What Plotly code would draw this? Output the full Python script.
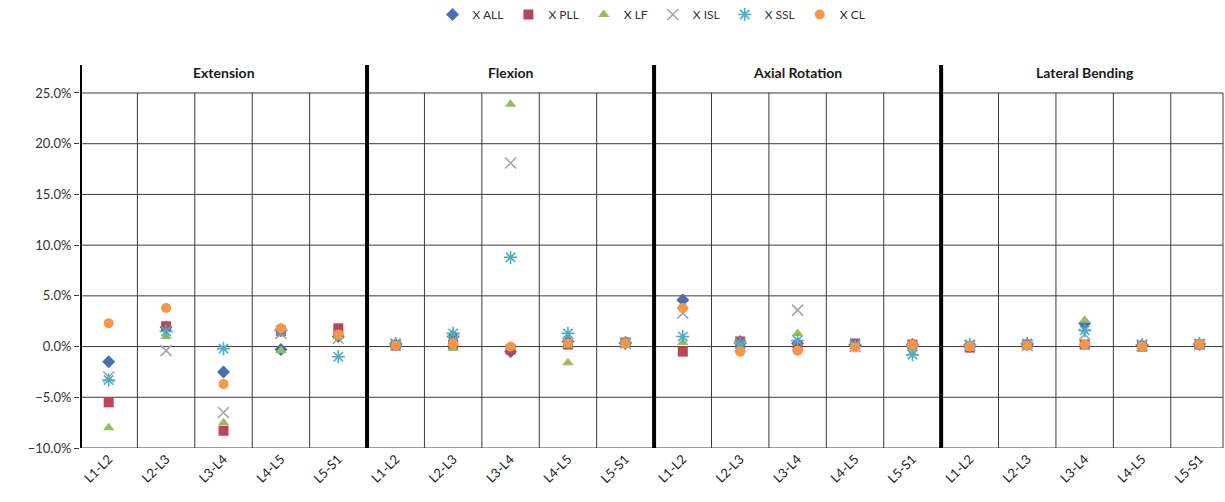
import plotly.graph_objects as go

motions = ["Extension", "Flexion", "Axial Rotation", "Lateral Bending"]
levels = ["L1-L2", "L2-L3", "L3-L4", "L4-L5", "L5-S1"]
categories = [lv for _ in motions for lv in levels]

# values in % (Extension, Flexion, Axial Rotation, Lateral Bending; 5 levels each)
x_all = [-1.5, 1.9, -2.5, -0.3, 1.0,
         0.2, 1.0, -0.5, 0.5, 0.3,
         4.6, 0.5, 0.3, 0.1, 0.2,
         0.0, 0.2, 2.3, 0.1, 0.2]
x_pll = [-5.5, 2.0, -8.3, 1.5, 1.8,
         0.1, 0.2, -0.3, 0.2, 0.4,
         -0.5, 0.5, 0.0, 0.3, 0.2,
         -0.1, 0.2, 0.2, 0.0, 0.2]
x_lf = [-8.0, 1.0, -7.5, -0.4, 1.0,
        0.0, -0.2, 23.9, -1.6, 0.3,
        0.4, 0.0, 1.3, 0.0, -0.2,
        -0.2, 0.0, 2.6, 0.0, 0.1]
x_isl = [-3.0, -0.4, -6.5, 1.3, 0.8,
         0.2, 0.6, 18.1, 0.3, 0.3,
         3.3, 0.0, 3.6, 0.0, -0.4,
         0.1, 0.1, 1.2, 0.1, 0.2]
x_ssl = [-3.3, 1.5, -0.2, 1.6, -1.0,
         0.3, 1.3, 8.8, 1.3, 0.4,
         1.0, 0.3, 0.6, 0.2, -0.8,
         0.2, 0.3, 1.6, 0.2, 0.3]
x_cl = [2.3, 3.8, -3.7, 1.8, 1.2,
        0.1, 0.3, 0.0, 0.3, 0.3,
        3.8, -0.5, -0.4, -0.1, 0.2,
        0.0, 0.1, 0.2, 0.0, 0.2]

y_ticks = [-10, -5, 0, 5, 10, 15, 20, 25]
xs = list(range(len(categories)))

series = [
    ("X ALL", x_all, "diamond", "#4A6FAF", None),
    ("X PLL", x_pll, "square", "#BE4459", None),
    ("X LF", x_lf, "triangle-up", "#9BBB59", None),
    ("X ISL", x_isl, "x-thin-open", "#A6A6A6", 1.6),
    ("X SSL", x_ssl, "asterisk-open", "#4BACC6", 1.6),
    ("X CL", x_cl, "circle", "#F79646", None),
]

fig = go.Figure()
for name, vals, sym, col, lw in series:
    marker = dict(symbol=sym, size=10, color=col)
    if lw:
        marker["line"] = dict(color=col, width=lw)
        marker["size"] = 11
    fig.add_trace(go.Scatter(x=xs, y=[v / 100 for v in vals], mode="markers",
                             name=name, marker=marker))

shapes = []
n = len(categories)
# white band over the top edge of the plot area
shapes.append(dict(type="rect", xref="paper", yref="paper", x0=-0.01, x1=1.01,
                   y0=0.97, y1=1.05, fillcolor="white", line=dict(width=0)))
for t in y_ticks:
    shapes.append(dict(type="line", xref="paper", yref="y", x0=0, x1=1,
                       y0=t / 100, y1=t / 100, layer="below",
                       line=dict(color="#3a3a3a", width=1)))
for i in range(n):
    b = i - 0.5
    if i % 5 == 0:
        shapes.append(dict(type="line", xref="x", yref="paper", x0=b, x1=b,
                           y0=0, y1=1, line=dict(color="black", width=4)))
    else:
        shapes.append(dict(type="line", xref="x", yref="y", x0=b, x1=b,
                           y0=-0.10, y1=0.25, layer="below",
                           line=dict(color="#3a3a3a", width=1)))
shapes.append(dict(type="line", xref="paper", yref="y", x0=1, x1=1,
                   y0=-0.10, y1=0.25, line=dict(color="#3a3a3a", width=1)))

annotations = []
for k, m in enumerate(motions):
    annotations.append(dict(x=k * 5 + 2, y=0.27, xref="x", yref="y", text="<b>" + m + "</b>",
                            showarrow=False, font=dict(size=14, color="#1a1a1a", family="Lato")))

fig.update_layout(
    width=1225, height=502,
    margin=dict(l=80, r=2, t=65, b=54),
    plot_bgcolor="white", paper_bgcolor="white",
    font=dict(family="Lato", size=13, color="#222222"),
    showlegend=True,
    legend=dict(orientation="h", x=0.5, xanchor="center", xref="paper",
                y=1.0, yanchor="top", yref="container",
                font=dict(size=12, color="#333333"), itemwidth=30,
                tracegroupgap=0, bgcolor="rgba(0,0,0,0)"),
    shapes=shapes,
    annotations=annotations,
    xaxis=dict(range=[-0.5, n - 0.59], tickmode="array", tickvals=xs, ticktext=categories,
               tickangle=-45, showgrid=False, zeroline=False, showline=False,
               ticks="", tickfont=dict(size=13, color="#222222")),
    yaxis=dict(range=[-0.10, 0.2776], tickmode="array", tickvals=[v / 100 for v in y_ticks],
               tickformat=".1%", showgrid=False,
               zeroline=False, showline=False, ticks="outside", ticklen=5,
               tickcolor="#3a3a3a", tickfont=dict(size=13, color="#333333")),
)

fig.write_html("out.html")
